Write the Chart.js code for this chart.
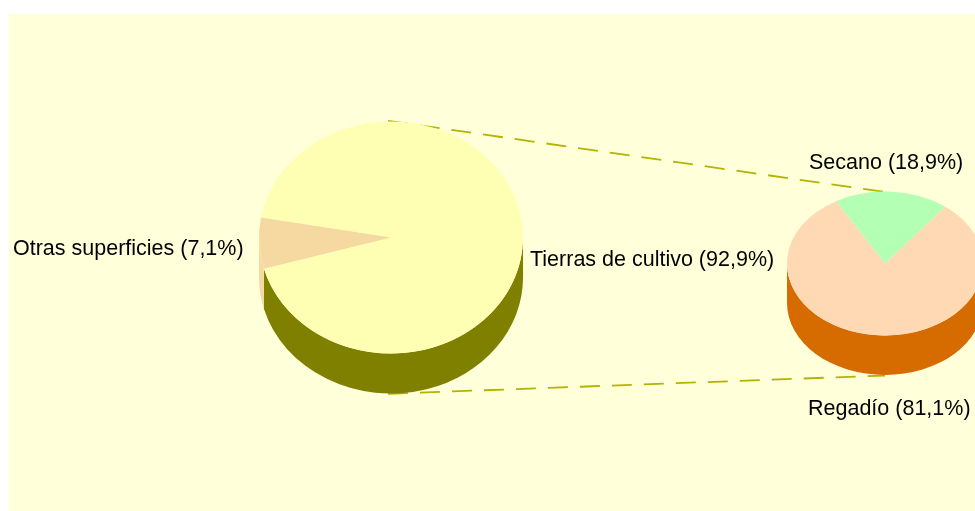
<!DOCTYPE html>
<html>
<head>
<meta charset="utf-8">
<style>
html,body{margin:0;padding:0;background:#fff;width:975px;height:511px;overflow:hidden;}
#bg{position:absolute;left:9px;top:14px;width:966px;height:497px;background:#FFFFD9;}
canvas{position:absolute;left:0;top:0;}
</style>
<script src="https://cdn.jsdelivr.net/npm/chart.js@4"></script>
</head>
<body>
<div id="bg"></div>
<canvas id="main" width="975" height="511"></canvas>
<canvas id="detail" width="1000" height="511"></canvas>
<script>
const mainLabels = ["Tierras de cultivo", "Otras superficies"];
const mainValues = [92.9, 7.1];
const mainColors = ["#FFFFB3", "#F5D9A0"];
const mainSideColors = ["#808000", "#F5D9A0"];

const detailLabels = ["Secano", "Regadío"];
const detailValues = [18.9, 81.1];
const detailColors = ["#B3FFB3", "#FFD9B3"];
const detailSideColors = ["#009900", "#D66B00"];

const FONT = '21.5px "Liberation Sans", Arial, sans-serif';
const LEADER = "#B3B300";

function labelText(label, value) {
  return label + " (" + value.toFixed(1).replace(".", ",") + "%)";
}

function pie3d(opts) {
  return {
    id: "pie3d",
    beforeDatasetsDraw(chart) {
      const ctx = chart.ctx;
      const arcs = chart.getDatasetMeta(0).data;
      const cx = arcs[0].x, cy = arcs[0].y, rx = arcs[0].outerRadius, ry = rx * opts.squash;
      if (opts.beforeAll) opts.beforeAll(ctx);
      arcs.forEach((arc, i) => {
        for (let k = 0; k < 3; k++) {
          const lo = Math.max(arc.startAngle, 2 * Math.PI * (k - 1));
          const hi = Math.min(arc.endAngle, 2 * Math.PI * (k - 1) + Math.PI);
          if (hi <= lo) continue;
          ctx.beginPath();
          ctx.ellipse(cx, cy, rx, ry, 0, lo, hi);
          ctx.ellipse(cx, cy + opts.depth, rx, ry, 0, hi, lo, true);
          ctx.closePath();
          ctx.fillStyle = opts.sides[i];
          ctx.fill();
        }
      });
      ctx.save();
      ctx.translate(cx, cy);
      ctx.scale(1, opts.squash);
      ctx.translate(-cx, -cy);
    },
    afterDatasetsDraw(chart) {
      const ctx = chart.ctx;
      ctx.restore();
      ctx.save();
      ctx.font = FONT;
      ctx.fillStyle = "#000";
      ctx.textBaseline = "alphabetic";
      opts.labels.forEach(l => ctx.fillText(l.text, l.x, l.y));
      ctx.restore();
    }
  };
}

function makePie(id, labels, values, colors, rotation, area, canvasW, plugin) {
  return new Chart(document.getElementById(id), {
    type: "pie",
    data: { labels, datasets: [{ data: values, backgroundColor: colors, borderWidth: 0, clip: false }] },
    options: {
      responsive: false,
      animation: false,
      events: [],
      rotation,
      layout: { padding: {
        left: area.cx - area.r,
        right: canvasW - area.cx - area.r,
        top: area.cy - area.r,
        bottom: 511 - area.cy - area.r
      } },
      plugins: { legend: { display: false }, tooltip: { enabled: false } }
    },
    plugins: [plugin]
  });
}

function drawLeaders(ctx) {
  ctx.save();
  ctx.strokeStyle = LEADER;
  ctx.lineWidth = 1.8;
  ctx.setLineDash([20, 12]);
  [[388, 120.8, 885, 192], [388, 393.8, 885, 375.5]].forEach(s => {
    ctx.beginPath();
    ctx.moveTo(s[0], s[1]);
    ctx.lineTo(s[2], s[3]);
    ctx.stroke();
  });
  ctx.restore();
}

makePie("main", mainLabels, mainValues, mainColors, 279.9,
  { cx: 391, cy: 237.5, r: 132 }, 975,
  pie3d({
    squash: 116 / 132, depth: 40, sides: mainSideColors, beforeAll: drawLeaders,
    labels: [
      { text: labelText(mainLabels[0], mainValues[0]), x: 530, y: 266 },
      { text: labelText(mainLabels[1], mainValues[1]), x: 13, y: 255 }
    ]
  }));

makePie("detail", detailLabels, detailValues, detailColors, -30,
  { cx: 885, cy: 263.5, r: 98 }, 1000,
  pie3d({
    squash: 72 / 98, depth: 39.5, sides: detailSideColors,
    labels: [
      { text: labelText(detailLabels[0], detailValues[0]), x: 809, y: 169 },
      { text: labelText(detailLabels[1], detailValues[1]), x: 808, y: 415 }
    ]
  }));
</script>
</body>
</html>
